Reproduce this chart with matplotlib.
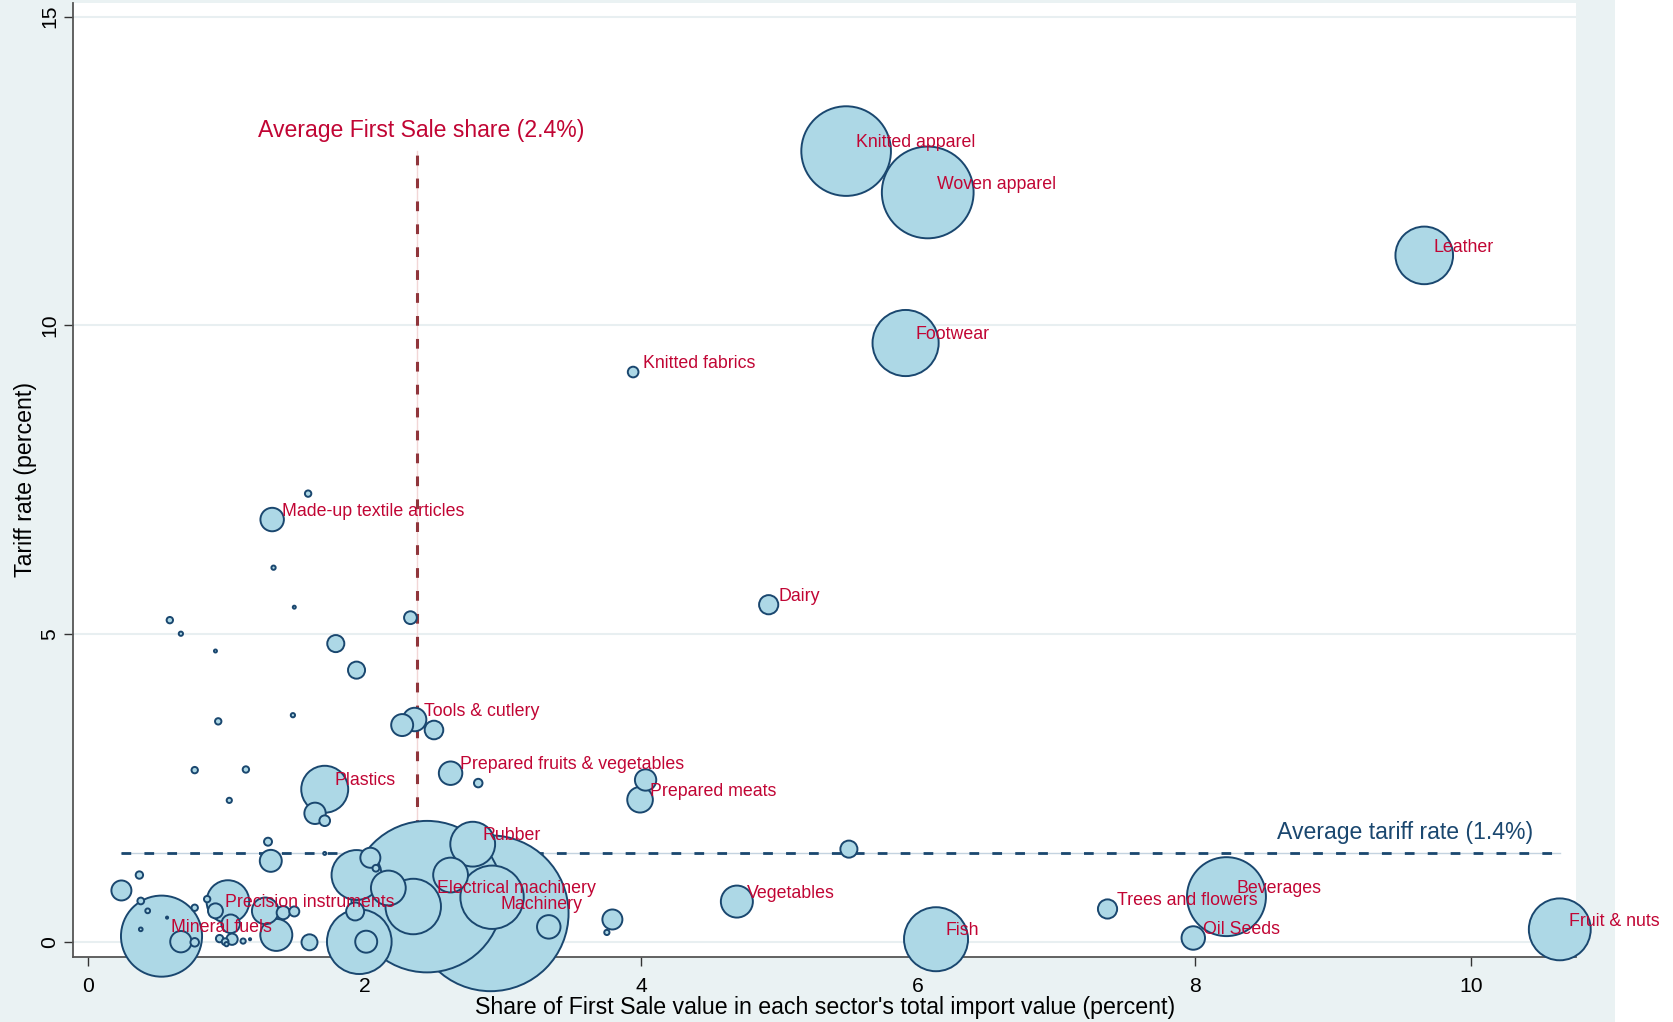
import matplotlib
matplotlib.use('Agg')
import matplotlib.pyplot as plt
from matplotlib.patches import Rectangle

plt.rcParams['font.family'] = ['Liberation Sans', 'DejaVu Sans']
plt.rcParams['lines.scale_dashes'] = False

# Sector data: share of First Sale value (%), tariff rate (%), relative import weight, label
share = [5.48, 6.07, 9.66, 5.91, 3.94, 1.33, 4.92, 2.36, 2.62, 3.99, 1.71, 2.78,
         2.45, 2.91, 4.69, 7.37, 8.23, 7.99, 10.64, 6.13, 0.92, 0.53,
         1.59, 1.34, 1.49, 0.59, 0.67, 0.92, 2.33, 1.79, 1.94, 0.94, 1.48, 2.27,
         2.50, 0.77, 1.14, 1.02, 2.82, 4.03, 1.64, 1.71, 1.30, 1.32, 5.50, 1.71,
         0.37, 0.24, 0.38, 0.43, 0.38, 0.57, 0.67, 0.77, 0.77, 0.86, 1.01, 1.03,
         0.95, 0.99, 1.04, 1.12, 1.17, 1.00, 1.28, 1.36, 1.41, 1.49, 1.60, 1.94,
         2.04, 2.08, 2.17, 1.93, 1.96, 2.01, 2.35, 2.62, 2.92, 3.33, 3.79, 3.75]
tariff = [12.82, 12.15, 11.13, 9.71, 9.24, 6.85, 5.47, 3.61, 2.74, 2.31, 2.48, 1.59,
          0.74, 0.47, 0.66, 0.54, 0.74, 0.07, 0.21, 0.05, 0.51, 0.10,
          7.27, 6.07, 5.43, 5.22, 5.00, 4.72, 5.26, 4.84, 4.41, 3.58, 3.68, 3.52,
          3.44, 2.79, 2.80, 2.30, 2.58, 2.63, 2.09, 1.97, 1.63, 1.32, 1.51, 1.44,
          1.09, 0.84, 0.67, 0.51, 0.21, 0.40, 0.01, 0.00, 0.56, 0.70, 0.66, 0.30,
          0.06, 0.01, 0.05, 0.02, 0.05, -0.03, 0.51, 0.12, 0.48, 0.50, 0.00, 1.09,
          1.37, 1.20, 0.88, 0.50, 0.01, 0.01, 0.58, 1.09, 0.73, 0.25, 0.37, 0.16]
weight = [1764, 1849, 729, 961, 25, 121, 81, 121, 121, 144, 484, 441,
          5041, 5329, 225, 81, 1369, 121, 841, 900, 49, 1444,
          9, 4, 2, 9, 4, 2, 36, 64, 64, 9, 4, 106,
          76, 9, 9, 6, 16, 100, 100, 25, 14, 106, 64, 2,
          12, 88, 10, 5, 3, 1, 100, 16, 9, 9, 400, 76,
          12, 10, 28, 6, 1, 4, 156, 225, 38, 22, 56, 548,
          88, 10, 266, 71, 918, 106, 676, 266, 882, 121, 88, 6]
labels = ['Knitted apparel', 'Woven apparel', 'Leather', 'Footwear', 'Knitted fabrics',
          'Made-up textile articles', 'Dairy', 'Tools & cutlery',
          'Prepared fruits & vegetables', 'Prepared meats', 'Plastics', 'Rubber',
          'Electrical machinery', 'Machinery', 'Vegetables', 'Trees and flowers',
          'Beverages', 'Oil Seeds', 'Fruit & nuts', 'Fish', 'Precision instruments',
          'Mineral fuels']

avg_share = 2.38
avg_tariff = 1.44

navy = '#1a476f'
maroon = '#90353b'
cranberry = '#c10534'
bg = '#eaf2f3'

fig = plt.figure(figsize=(16.73, 10.22), dpi=100, facecolor=bg)
fig.patches.append(Rectangle((0.9653, 0), 0.0347, 1, transform=fig.transFigure,
                             facecolor='white', edgecolor='none', zorder=-1))
ax = fig.add_axes([0.0438, 0.0636, 0.8982, 0.9335])
ax.set_facecolor('white')

# reference lines (under the bubbles)
ymin, ymax = min(tariff), max(tariff)
xmin, xmax = min(share), max(share)
ax.plot([avg_share, avg_share], [ymin, ymax], color='#f2d6d6', lw=1.0, zorder=1)
ax.plot([avg_share, avg_share], [ymin, ymax], color=maroon, lw=2.2,
        dashes=(7, 9.5), zorder=1.5)
ax.plot([xmin, xmax], [avg_tariff, avg_tariff], color='#c4d3e0', lw=1.0, zorder=1)
ax.plot([xmin, xmax], [avg_tariff, avg_tariff], color=navy, lw=2.0,
        dashes=(7, 9.5), zorder=1.5)

# bubbles, largest first so small ones stay visible
order = sorted(range(len(share)), key=lambda i: -weight[i])
ax.scatter([share[i] for i in order], [tariff[i] for i in order],
           s=[2.36 * weight[i] for i in order], facecolor='#add8e6',
           edgecolor=navy, linewidth=1.4, zorder=3, clip_on=False)

for i, name in enumerate(labels):
    ax.annotate(name, (share[i], tariff[i]), xytext=(6.9, 6.0),
                textcoords='offset points', ha='left', va='center',
                color=cranberry, fontsize=12.8, zorder=4, annotation_clip=False)

ax.annotate('Average First Sale share (2.4%)', (avg_share, ymax), xytext=(2.9, 15),
            textcoords='offset points', ha='center', va='center',
            color=cranberry, fontsize=16.6, zorder=4)
ax.annotate('Average tariff rate (1.4%)', (xmax, avg_tariff), xytext=(-19, 15),
            textcoords='offset points', ha='right', va='center',
            color=navy, fontsize=16.6, zorder=4)

ax.set_xlim(-0.108, 10.757)
ax.set_ylim(-0.238, 15.22)
ax.set_xticks([0, 2, 4, 6, 8, 10])
ax.set_yticks([0, 5, 10, 15])
ax.grid(axis='y', color='#e8eff1', lw=1.5, zorder=0)
ax.set_axisbelow(True)
for side in ['top', 'right']:
    ax.spines[side].set_visible(False)
for side in ['left', 'bottom']:
    ax.spines[side].set_color('#555555')
    ax.spines[side].set_linewidth(1.3)
    ax.spines[side].set_zorder(2)
ax.tick_params(axis='both', length=6.5, width=1.0, color='#333333', labelsize=15.2)
ax.tick_params(axis='x', pad=8)
ax.tick_params(axis='y', pad=3.5)
plt.setp(ax.get_yticklabels(), rotation=90, va='center')

ax.set_xlabel("Share of First Sale value in each sector's total import value (percent)",
              fontsize=16.7, labelpad=0)
ax.set_ylabel('Tariff rate (percent)', fontsize=16.7, labelpad=2.2)

fig.savefig('out.png', dpi=100, facecolor=bg)
